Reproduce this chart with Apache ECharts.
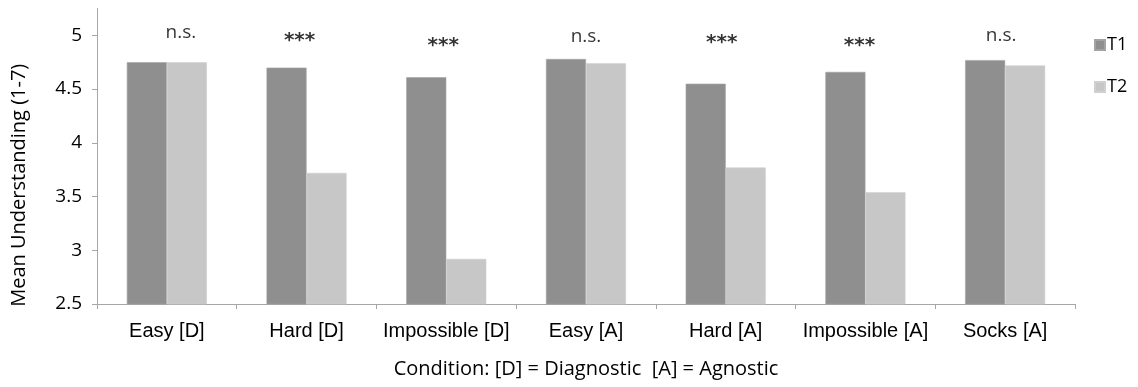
<!DOCTYPE html>
<html>
<head>
<meta charset="utf-8">
<script src="https://cdn.jsdelivr.net/npm/echarts@6/dist/echarts.min.js"></script>
<style>
  html, body { margin: 0; padding: 0; background: #fff; }
  #chart { width: 1138px; height: 387px; }
</style>
</head>
<body>
<div id="chart"></div>
<script>
// Conditions on the x axis
const categories = ['Easy [D]', 'Hard [D]', 'Impossible [D]', 'Easy [A]', 'Hard [A]', 'Impossible [A]', 'Socks [A]'];
// Mean understanding at each time point
const t1Values = [4.75, 4.70, 4.61, 4.78, 4.55, 4.66, 4.77];
const t2Values = [4.75, 3.72, 2.92, 4.74, 3.77, 3.54, 4.72];
// Significance of the T1 vs T2 difference, and the height it is written at
const sigLabels = ['n.s.', '***', '***', 'n.s.', '***', '***', 'n.s.'];
const sigHeights = [5.03, 5.00, 4.95, 4.99, 4.98, 4.95, 5.00];
// Y axis ticks
const yTicks = [2.5, 3, 3.5, 4, 4.5, 5];

// small horizontal nudges for the significance marks (px)
const sigNudge = [14, -7, -3, 0, -4, -6, -4];

const axisGrey = '#a6a6a6';
const calibriLike = '"Open Sans", Lato, sans-serif';
const helvLike = '"Liberation Sans", Arial, sans-serif';

const chart = echarts.init(document.getElementById('chart'), null, { renderer: 'canvas' });

chart.setOption({
  animation: false,
  backgroundColor: '#ffffff',
  grid: { left: 97, right: 63, top: 8.5, bottom: 83, containLabel: false },
  legend: {
    orient: 'vertical',
    left: 1089,
    top: 31,
    itemWidth: 10,
    itemHeight: 10,
    itemGap: 24,
    icon: 'rect',
    textStyle: { fontFamily: calibriLike, fontSize: 18, color: '#000', padding: [0, 0, 0, -3] },
    data: ['T1', 'T2']
  },
  xAxis: {
    type: 'category',
    data: categories,
    name: 'Condition: [D] = Diagnostic  [A] = Agnostic',
    nameLocation: 'middle',
    nameGap: 55,
    nameTextStyle: { fontFamily: calibriLike, fontSize: 20, color: '#000' },
    axisLine: { lineStyle: { color: axisGrey, width: 1 } },
    axisTick: { show: true, length: 5, lineStyle: { color: axisGrey } },
    axisLabel: { fontFamily: helvLike, fontSize: 20, color: '#000', margin: 17, interval: 0 }
  },
  yAxis: {
    type: 'value',
    min: 2.5,
    max: 5.25,
    interval: 0.5,
    name: 'Mean Understanding (1-7)',
    nameLocation: 'middle',
    nameGap: 68,
    nameTextStyle: { fontFamily: calibriLike, fontSize: 20, color: '#000', padding: [0, 58, 0, 0] },
    axisLine: { show: true, lineStyle: { color: axisGrey, width: 1 } },
    axisTick: { show: true, length: 5, lineStyle: { color: axisGrey }, customValues: yTicks },
    axisLabel: { fontFamily: calibriLike, fontSize: 19, color: '#000', margin: 15, customValues: yTicks },
    splitLine: { show: false }
  },
  series: [
    {
      name: 'T1',
      type: 'bar',
      data: t1Values,
      barGap: '0%',
      barCategoryGap: '42.7%',
      itemStyle: { color: '#8f8f8f', borderColor: '#a3a3a3', borderWidth: 0.6 }
    },
    {
      name: 'T2',
      type: 'bar',
      data: t2Values,
      barGap: '0%',
      barCategoryGap: '42.7%',
      itemStyle: { color: '#c7c7c7', borderColor: '#d0d0d0', borderWidth: 0.6 }
    },
    {
      name: 'sig',
      type: 'scatter',
      symbolSize: 0,
      silent: true,
      data: categories.map((c, i) => ({
        value: [c, sigHeights[i]],
        label: {
          show: true,
          position: 'inside',
          formatter: sigLabels[i],
          offset: [sigNudge[i], sigLabels[i] === '***' ? 5 : 0],
          fontFamily: sigLabels[i] === '***' ? '"DejaVu Sans", sans-serif' : calibriLike,
          fontSize: sigLabels[i] === '***' ? 20 : 19,
          fontWeight: sigLabels[i] === '***' ? 'bold' : 'normal',
          color: '#000'
        }
      }))
    }
  ]
});
</script>
</body>
</html>
